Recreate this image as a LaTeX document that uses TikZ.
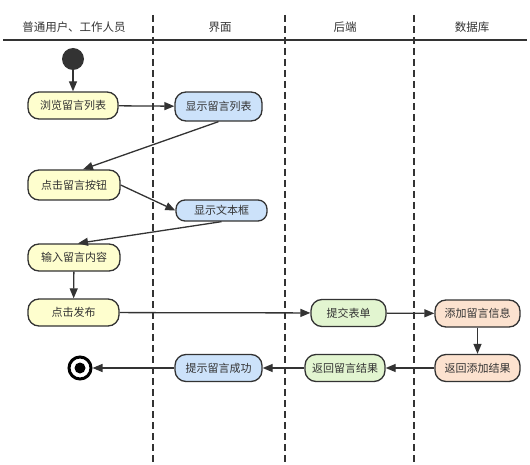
\documentclass[tikz,border=0pt]{standalone}
\usepackage{fontspec}
\setmainfont{Noto Sans CJK SC}
\usetikzlibrary{arrows.meta}
\definecolor{yel}{HTML}{FEFECE}
\definecolor{blu}{HTML}{CCE2FA}
\definecolor{grn}{HTML}{E2F5D0}
\definecolor{org}{HTML}{FCE2CF}
\definecolor{ink}{HTML}{333333}
\tikzset{
  act/.style={draw=ink, line width=1.3pt, rounded corners=11pt, inner sep=0pt,
    minimum height=27pt, font=\fontsize{11}{13}\selectfont, text=ink},
  ya/.style={act, fill=yel},
  ba/.style={act, fill=blu},
  ga/.style={act, fill=grn},
  oa/.style={act, fill=org},
  flow/.style={draw=ink, line width=1.3pt, -{Triangle[length=10pt,width=8pt]}},
  lane/.style={draw=ink, line width=1.2pt, dash pattern=on 7pt off 4pt},
  hdr/.style={font=\fontsize{11.5}{13}\selectfont, text=ink}
}
\begin{document}
\begin{tikzpicture}[x=1pt,y=-1pt]
\useasboundingbox (0,0) rectangle (530,465);
% headers
\node[hdr] (h1) at (74,27) {普通用户、工作人员};
\node[hdr] (h2) at (220,27) {界面};
\node[hdr] (h3) at (345,27) {后端};
\node[hdr] (h4) at (472,27) {数据库};
\draw[draw=ink, line width=1.3pt] (3,40) -- (527,40);
\draw[lane] (153,15) -- (153,465);
\draw[lane] (285,15) -- (285,465);
\draw[lane] (414,15) -- (414,465);
% nodes
\node[circle, fill=ink, minimum size=22pt, inner sep=0pt] (start) at (73,59) {};
\node[ya, minimum width=90pt] (n1) at (73,105.5) {浏览留言列表};
\node[ba, minimum width=87pt, minimum height=29pt] (n2) at (218.5,106.5) {显示留言列表};
\node[ya, minimum width=92pt, minimum height=30pt] (n3) at (74,185) {点击留言按钮};
\node[ba, minimum width=91pt, minimum height=21pt, rounded corners=9pt] (n4) at (221.5,210.5) {显示文本框};
\node[ya, minimum width=92pt] (n5) at (74,257.5) {输入留言内容};
\node[ya, minimum width=91pt] (n6) at (73.5,312.5) {点击发布};
\node[ga, minimum width=75pt] (n7) at (348.5,313) {提交表单};
\node[oa, minimum width=85pt] (n8) at (477.5,313.5) {添加留言信息};
\node[oa, minimum width=85pt] (n9) at (477.5,368) {返回添加结果};
\node[ga, minimum width=80pt] (n10) at (345,368) {返回留言结果};
\node[ba, minimum width=87pt] (n11) at (218.5,368) {提示留言成功};
\node[circle, draw=black, line width=3pt, fill=white, minimum size=22pt, inner sep=0pt] (end) at (80,368) {};
\node[circle, fill=black, minimum size=11pt, inner sep=0pt] (endin) at (end.center) {};
% flows
\draw[flow] (start) -- (n1);
\draw[flow] (n1) -- (n2);
\draw[flow] (n2.south) -- ([xshift=9pt]n3.north);
\draw[flow] (n3.east) -- (n4.west);
\draw[flow] (n4.south) -- ([xshift=4pt]n5.north);
\draw[flow] (n5) -- (n6);
\draw[flow] (n6) -- (n7);
\draw[flow] (n7) -- (n8);
\draw[flow] (n8) -- (n9);
\draw[flow] (n9) -- (n10);
\draw[flow] (n10) -- (n11);
\draw[flow] (n11) -- (end);
\end{tikzpicture}
\end{document}
